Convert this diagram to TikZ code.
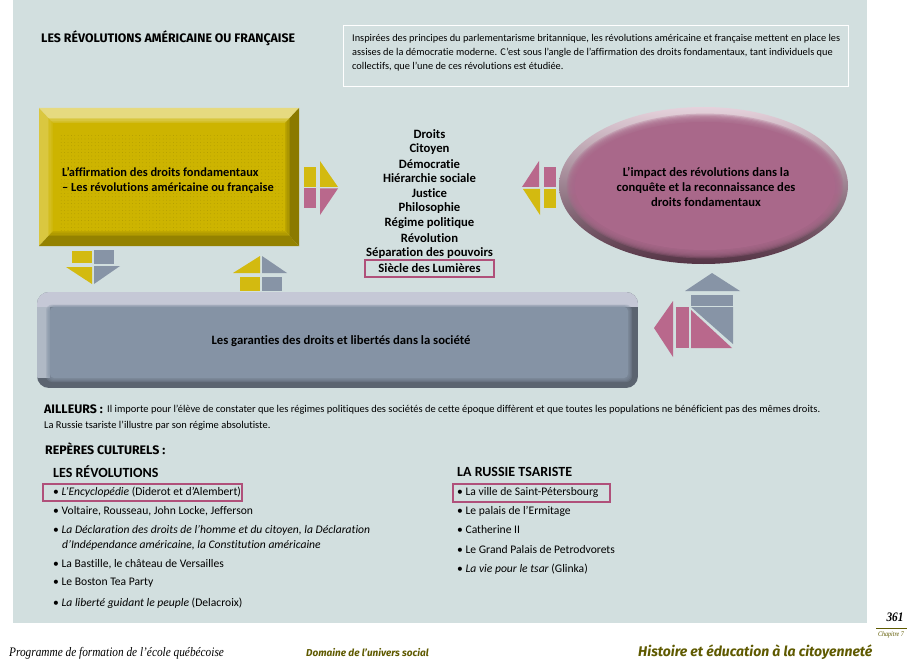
\documentclass[tikz,border=0pt]{standalone}
\usepackage{xcolor}
\usepackage{fontspec}
\setmainfont{Carlito}[Ligatures=NoCommon]
\newfontfamily\titlefont{Fira Sans}
\newfontfamily\footfont{Liberation Serif}[FakeStretch=0.87]
\usetikzlibrary{shapes.geometric, positioning, calc, patterns.meta}
\definecolor{panelgrey}{HTML}{D2DFDF}
\definecolor{markrose}{HTML}{B0507A}
\definecolor{tanyellow}{HTML}{D3BA10}
\definecolor{tanrose}{HTML}{B9688C}
\definecolor{tangrey}{HTML}{8794A6}
\definecolor{faceyellow}{HTML}{CDB400}
\definecolor{facerose}{HTML}{A9688A}
\definecolor{facegrey}{HTML}{8593A5}
\definecolor{bevelgrey}{HTML}{C5C8D6}
\definecolor{footolive}{HTML}{5F5A00}
\tikzset{
    bodytext/.style={anchor=west, inner sep=0pt, font=\fontsize{10.47}{14}\selectfont, text=black},
    listtext/.style={anchor=west, inner sep=0pt, font=\fontsize{11.6}{15}\selectfont, text=black},
    headtext/.style={anchor=west, inner sep=0pt, font=\titlefont\fontsize{12.35}{15}\selectfont\bfseries, text=black},
    subhead/.style={anchor=west, inner sep=0pt, font=\fontsize{14}{15}\selectfont\bfseries, text=black},
    droitline/.style={inner sep=0pt, font=\fontsize{12.7}{15}\selectfont\bfseries, text=black},
    boxlabel/.style={inner sep=0pt, font=\fontsize{12.6}{15}\selectfont\bfseries, align=center, text=black},
    markbox/.style={draw=markrose, line width=1.2pt},
    tanY/.style={fill=tanyellow},
    tanR/.style={fill=tanrose},
    tanG/.style={fill=tangrey}
}
\begin{document}
\begin{tikzpicture}[x=1pt, y=-1pt]
    \useasboundingbox (0,0) rectangle (908,666);
    \fill[white] (0,0) rectangle (908,666);
    \fill[panelgrey] (13,0) rectangle (867,623);

    % header
    \node[headtext] (title) at (41,38) {LES RÉVOLUTIONS AMÉRICAINE OU FRANÇAISE};
    \draw[white, line width=1pt] (343,26) rectangle (848,87);
    \node[bodytext, align=left, font=\fontsize{10.35}{14}\selectfont] (intro) at (352,53) {Inspirées des principes du parlementarisme britannique, les révolutions américaine et française mettent en place les\\assises de la démocratie moderne. C’est sous l’angle de l’affirmation des droits fondamentaux, tant individuels que\\collectifs, que l’une de ces révolutions est étudiée.};

    % yellow box
    \fill[faceyellow!50!white] (39,108) -- (299,108) -- (285,123) -- (53,123) -- cycle;
    \fill[faceyellow!75!white] (39,108) -- (53,123) -- (53,231) -- (39,246) -- cycle;
    \fill[faceyellow!68!black] (299,108) -- (285,123) -- (285,231) -- (299,246) -- cycle;
    \fill[faceyellow!72!black] (39,246) -- (53,231) -- (285,231) -- (299,246) -- cycle;
    \foreach \k in {0,...,4}
        \fill[faceyellow, opacity=0.3] ({53-1.2*\k},{123-1.2*\k}) rectangle ({285+1.2*\k},{231+1.2*\k});
    \fill[faceyellow] (53,123) rectangle (285,231);
    \fill[pattern={Dots[distance=3.4pt, radius=0.35pt]}, pattern color=faceyellow!80!black] (60,136) rectangle (284,230);
    \node[boxlabel, align=left, anchor=west, font=\fontsize{12.4}{15}\selectfont\bfseries] (affirm) at (62,181) {L’affirmation des droits fondamentaux\\– Les révolutions américaine ou française};

    % rose ellipse
    \shade[top color=facerose!30!white, bottom color=facerose!50!black] (703.5,185.5) ellipse [x radius=144.5, y radius=78.5];
    \foreach \k in {0,...,7}
        \fill[facerose, opacity=0.3] (705,186) ellipse [x radius={130+1.2*\k}, y radius={64+1.2*\k}];
    \fill[facerose] (705,186) ellipse [x radius=130, y radius=64];
    \node[boxlabel] (impact) at (706,187) {L’impact des révolutions dans la\\conquête et la reconnaissance des\\droits fondamentaux};

    % grey box
    \begin{scope}
        \clip[rounded corners=12pt] (37,292) rectangle (638,388);
        \fill[facegrey!68!black] (37,292) rectangle (638,388);
        \fill[facegrey!65!white] (37,292) rectangle (50,378);
        \fill[bevelgrey] (37,292) rectangle (638,307);
        \foreach \k in {0,...,4}
            \fill[facegrey, opacity=0.3, rounded corners=6pt] ({50-\k},{307-0.6*\k}) rectangle ({628+\k},{378+\k});
        \fill[facegrey, rounded corners=4pt] (50,307) rectangle (628,378);
    \end{scope}
    \node[boxlabel, font=\fontsize{12.7}{15}\selectfont\bfseries] (garanties) at (341,341) {Les garanties des droits et libertés dans la société};

    % list of words
    \node[droitline] (droits) at (429.5,134) {Droits};
    \node[droitline] (citoyen) at (429.5,149) {Citoyen};
    \node[droitline] (democratie) at (429.5,164) {Démocratie};
    \node[droitline] (hierarchie) at (429.5,178) {Hiérarchie sociale};
    \node[droitline] (justice) at (429.5,193) {Justice};
    \node[droitline] (philo) at (429.5,208) {Philosophie};
    \node[droitline] (regime) at (429.5,223) {Régime politique};
    \node[droitline] (revolution) at (429.5,238) {Révolution};
    \node[droitline] (separation) at (429.5,253) {Séparation des pouvoirs};
    \node[droitline] (siecle) at (429.5,268) {Siècle des Lumières};
    \draw[markbox] (365,260) rectangle (494,277);

    % arrow to the right of the yellow box
    \fill[tanY] (304,167) rectangle (316,187);
    \fill[tanY] (320,161) -- (338,187) -- (320,187) -- cycle;
    \fill[tanR] (304,188.5) rectangle (316,208);
    \fill[tanR] (320,188.5) -- (338,188.5) -- (320,215) -- cycle;

    % arrow below the yellow box
    \fill[tanY] (72,251) rectangle (92,263);
    \fill[tanG] (93.5,250) rectangle (114,264);
    \fill[tanY] (66,267) -- (92,267) -- (92,284) -- cycle;
    \fill[tanG] (94,266) -- (120,266) -- (94,284) -- cycle;

    % arrow above the grey box
    \fill[tanY] (233,273) -- (260,273) -- (260,256) -- cycle;
    \fill[tanG] (262,256) -- (262,273) -- (287,273) -- cycle;
    \fill[tanY] (240,277) rectangle (260,291);
    \fill[tanG] (262,277) rectangle (282,291);

    % arrow to the left of the ellipse
    \fill[tanR] (539,161) -- (539,187) -- (522,187) -- cycle;
    \fill[tanR] (544,167) rectangle (556,187);
    \fill[tanY] (523,189) -- (540,189) -- (540,215) -- cycle;
    \fill[tanY] (544,189) rectangle (556,208);

    % large arrow
    \fill[tanG] (685,291) -- (740,291) -- (712,273) -- cycle;
    \fill[tanG] (691,295) rectangle (733,306);
    \fill[tanG] (691,307) -- (733,307) -- (733,344) -- cycle;
    \fill[tanR] (691,310) -- (691,348) -- (732,348) -- cycle;
    \fill[tanR] (676,307) rectangle (689,348);
    \fill[tanR] (673,301) -- (673,357) -- (654,328) -- cycle;

    % lower text
    \node[headtext] (ailleurs) at (44,409.5) {AILLEURS :};
    \node[bodytext] (ailleursa) at (107,410) {Il importe pour l’élève de constater que les régimes politiques des sociétés de cette époque diffèrent et que toutes les populations ne bénéficient pas des mêmes droits.};
    \node[bodytext] (ailleursb) at (44,426) {La Russie tsariste l’illustre par son régime absolutiste.};
    \node[headtext] (reperes) at (45,449) {REPÈRES CULTURELS :};

    \node[subhead] (revol) at (53,472) {LES RÉVOLUTIONS};
    \node[listtext] (reva) at (53,492) {• \textit{L’Encyclopédie} (Diderot et d’Alembert)};
    \node[listtext] (revb) at (53,511) {• Voltaire, Rousseau, John Locke, Jefferson};
    \node[listtext] (revc) at (53,530) {• \textit{La Déclaration des droits de l’homme et du citoyen, la Déclaration}};
    \node[listtext] (revd) at (62,545) {\textit{d’Indépendance américaine, la Constitution américaine}};
    \node[listtext] (reve) at (53,564) {• La Bastille, le château de Versailles};
    \node[listtext] (revf) at (53,583) {• Le Boston Tea Party};
    \node[listtext] (revg) at (53,603) {• \textit{La liberté guidant le peuple} (Delacroix)};
    \draw[markbox] (43,484) rectangle (242,501);

    \node[subhead] (russie) at (457,472) {LA RUSSIE TSARISTE};
    \node[listtext] (rusa) at (457,492) {• La ville de Saint-Pétersbourg};
    \node[listtext] (rusb) at (457,511) {• Le palais de l’Ermitage};
    \node[listtext] (rusc) at (457,530) {• Catherine II};
    \node[listtext] (rusd) at (457,550) {• Le Grand Palais de Petrodvorets};
    \node[listtext] (ruse) at (457,569) {• \textit{La vie pour le tsar} (Glinka)};
    \draw[markbox] (453,484) rectangle (610,502);

    % footer
    \node[inner sep=0pt, font=\footfont\fontsize{13}{15}\selectfont\bfseries\itshape] (pagenum) at (895,617) {361};
    \draw[footolive, line width=0.8pt] (876,628) -- (907,628);
    \node[inner sep=0pt, text=footolive, font=\footfont\fontsize{7}{8}\selectfont\itshape] (chapitre) at (891,635) {Chapitre 7};
    \node[anchor=west, inner sep=0pt, font=\footfont\fontsize{13}{15}\selectfont\itshape] (programme) at (9,653) {Programme de formation de l’école québécoise};
    \node[anchor=west, inner sep=0pt, text=footolive, font=\titlefont\fontsize{10}{12}\selectfont\bfseries\itshape] (domaine) at (306,653) {Domaine de l’univers social};
    \node[anchor=west, inner sep=0pt, text=footolive, font=\titlefont\fontsize{14}{15}\selectfont\bfseries\itshape] (histoire) at (638,652) {Histoire et éducation à la citoyenneté};
\end{tikzpicture}
\end{document}
